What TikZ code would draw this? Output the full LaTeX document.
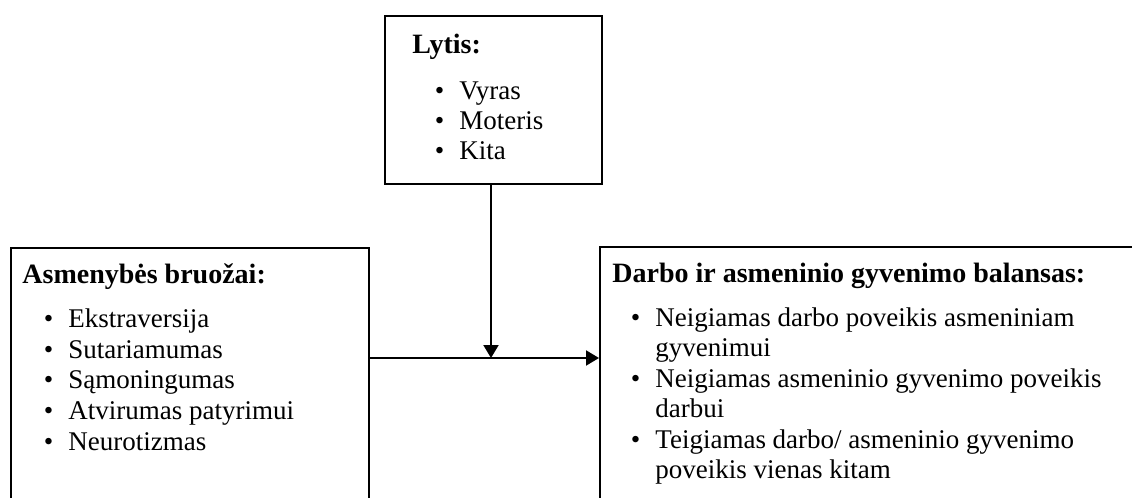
\documentclass[tikz,border=0pt]{standalone}
\usepackage{fontspec}
\setmainfont{Liberation Serif}
\usepackage{tikz}
\usetikzlibrary{arrows.meta}

\begin{document}
\begin{tikzpicture}[x=0.5pt,y=-0.5pt]
\tikzset{box/.style = {shape=rectangle,draw,line width=1pt,anchor=north west,inner sep=0pt}}
\tikzset{edge/.style = {line width=1pt,-{Triangle[length=6.5pt,width=7.5pt]}}}
\tikzset{txt/.style = {anchor=base west,inner sep=0pt,font=\fontsize{13.5}{15.5}\selectfont}}
\tikzset{head/.style = {txt,font=\fontsize{14}{16}\selectfont\bfseries}}
\tikzset{itm/.style = {txt}}
\newcommand{\bul}{\llap{\textbullet\hspace{7.5pt}}}
\useasboundingbox (0,0) rectangle (1132,498);
% boxes
\node[box,minimum width=179pt,minimum height=140pt] (lbox) at (10,247) {};
\node[box,minimum width=108.5pt,minimum height=84pt] (tbox) at (384,15) {};
\node[box,minimum width=280pt,minimum height=140pt] (rbox) at (599,246) {};
% texts
\node[head] (lhead) at (22,283) {Asmenybės bruožai:};
\node[itm] (l1) at (68,327) {\bul Ekstraversija};
\node[itm] (l2) at (68,358) {\bul Sutariamumas};
\node[itm] (l3) at (68,388) {\bul Sąmoningumas};
\node[itm] (l4) at (68,419) {\bul Atvirumas patyrimui};
\node[itm] (l5) at (68,450) {\bul Neurotizmas};
\node[head] (thead) at (412,54) {Lytis:};
\node[itm] (t1) at (459,99) {\bul Vyras};
\node[itm] (t2) at (459,129) {\bul Moteris};
\node[itm] (t3) at (459,159) {\bul Kita};
\node[head] (rhead) at (612,282) {Darbo ir asmeninio gyvenimo balansas:};
\node[itm] (r1) at (655,326) {\bul Neigiamas darbo poveikis asmeniniam};
\node[itm] (r1b) at (655,356) {gyvenimui};
\node[itm] (r2) at (655,387) {\bul Neigiamas asmeninio gyvenimo poveikis};
\node[itm] (r2b) at (655,417) {darbui};
\node[itm] (r3) at (655,448) {\bul Teigiamas darbo/ asmeninio gyvenimo};
\node[itm] (r3b) at (655,478) {poveikis vienas kitam};
% edges
\coordinate (j) at (491,358);
\draw[edge] (tbox.south -| j) to (j);
\draw[edge] (lbox.east |- j) to (rbox.west |- j);
\end{tikzpicture}
\end{document}
